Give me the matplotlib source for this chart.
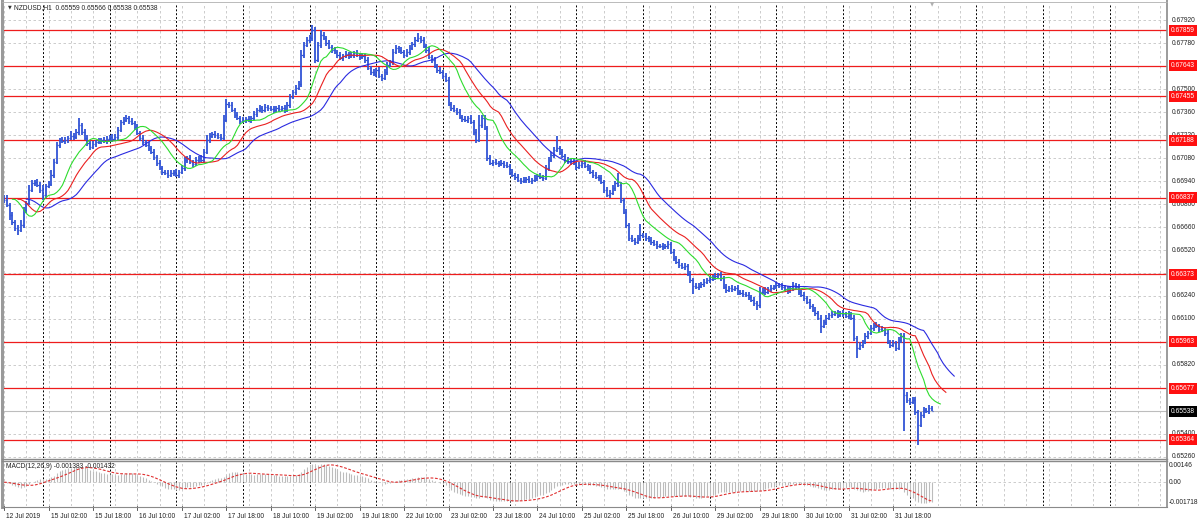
import numpy as np
import pandas as pd
import matplotlib
matplotlib.use('Agg')
import matplotlib.pyplot as plt

# NZDUSD H1 closes (in 1e-5), 12 Jul 2019 10:00 -> 1 Aug 2019 08:00
close = [
    66824, 66794, 66733, 66691, 66654, 66642, 66672, 66763, 66806, 66885,
    66928, 66934, 66916, 66885, 66855, 66909, 66922, 66977, 67056, 67159,
    67190, 67184, 67190, 67201, 67214, 67208, 67238, 67281, 67238, 67201,
    67172, 67147, 67165, 67178, 67184, 67190, 67184, 67196, 67208, 67196,
    67208, 67250, 67299, 67311, 67323, 67305, 67293, 67269, 67232, 67201,
    67178, 67159, 67141, 67117, 67086, 67050, 67019, 66995, 66989, 66977,
    66989, 66995, 66977, 66995, 67019, 67068, 67080, 67056, 67044, 67068,
    67080, 67068, 67117, 67190, 67214, 67226, 67220, 67208, 67201, 67311,
    67409, 67403, 67372, 67342, 67323, 67305, 67311, 67317, 67311, 67323,
    67348, 67372, 67384, 67372, 67390, 67384, 67378, 67372, 67384, 67378,
    67384, 67372, 67403, 67451, 67482, 67506, 67530, 67707, 67768, 67798,
    67810, 67859, 67677, 67768, 67829, 67810, 67780, 67756, 67737, 67725,
    67707, 67689, 67701, 67713, 67701, 67707, 67719, 67707, 67695, 67701,
    67677, 67628, 67604, 67591, 67616, 67579, 67567, 67604, 67646, 67665,
    67725, 67750, 67737, 67725, 67707, 67725, 67750, 67774, 67798, 67810,
    67798, 67762, 67737, 67695, 67677, 67640, 67616, 67604, 67579, 67555,
    67409, 67384, 67372, 67360, 67329, 67317, 67311, 67323, 67299, 67238,
    67190, 67281, 67323, 67262, 67080, 67050, 67056, 67050, 67044, 67050,
    67037, 67031, 66995, 66977, 66964, 66946, 66940, 66946, 66952, 66940,
    66946, 66958, 66971, 66964, 66958, 67019, 67068, 67098, 67129, 67141,
    67117, 67092, 67068, 67056, 67062, 67050, 67025, 67037, 67050, 67031,
    67019, 66995, 66977, 66964, 66958, 66934, 66885, 66855, 66867, 66897,
    66928, 66916, 66824, 66751, 66672, 66593, 66581, 66569, 66593, 66611,
    66605, 66593, 66581, 66569, 66556, 66544, 66544, 66538, 66544, 66556,
    66508, 66471, 66447, 66429, 66416, 66422, 66374, 66337, 66300, 66294,
    66300, 66313, 66325, 66337, 66343, 66355, 66362, 66368, 66349, 66294,
    66276, 66288, 66282, 66288, 66264, 66258, 66252, 66246, 66234, 66216,
    66197, 66185, 66264, 66276, 66264, 66282, 66288, 66300, 66307, 66300,
    66294, 66282, 66270, 66288, 66307, 66294, 66264, 66246, 66228, 66204,
    66179, 66155, 66137, 66106, 66057, 66082, 66106, 66124, 66131, 66137,
    66124, 66137, 66131, 66118, 66131, 66106, 65985, 65923, 65942, 65960,
    65996, 66015, 66045, 66063, 66057, 66039, 66033, 66015, 65960, 65942,
    65954, 65923, 65972, 65996, 65637, 65607, 65595, 65607, 65534, 65455,
    65516, 65546, 65540, 65559, 65538,
]
# wick above / below the body, in pips
wick_up = [
    2, 3, 1, 2, 1, 2, 3, 2, 1, 3,  2, 1, 2, 2, 3, 1, 2, 3, 2, 2,
    1, 2, 2, 1, 3, 2, 2, 4, 1, 2,  2, 1, 2, 1, 2, 1, 2, 2, 1, 2,
    2, 2, 1, 2, 2, 1, 2, 1, 2, 1,  2, 1, 2, 1, 2, 1, 2, 1, 1, 2,
    2, 1, 2, 1, 2, 2, 1, 2, 1, 2,  1, 2, 2, 3, 2, 1, 2, 1, 2, 3,
    3, 1, 2, 1, 2, 1, 2, 1, 2, 1,  2, 1, 2, 1, 2, 1, 1, 2, 1, 2,
    1, 2, 2, 2, 1, 2, 2, 3, 2, 2,  2, 3, 2, 2, 3, 2, 1, 2, 1, 2,
    1, 2, 1, 2, 1, 2, 1, 2, 1, 2,  1, 2, 1, 2, 1, 2, 1, 2, 2, 1,
    2, 2, 1, 2, 1, 2, 2, 1, 2, 3,  1, 2, 1, 2, 1, 2, 1, 2, 1, 2,
    2, 1, 2, 1, 2, 1, 2, 1, 2, 1,  2, 6, 2, 2, 1, 2, 1, 2, 1, 2,
    1, 2, 1, 2, 1, 2, 1, 2, 1, 2,  1, 2, 1, 2, 1, 2, 2, 2, 2, 7,
    1, 2, 1, 2, 1, 2, 1, 2, 1, 2,  1, 2, 1, 2, 1, 2, 1, 2, 2, 2,
    1, 6, 2, 1, 2, 1, 2, 1, 2, 7,  1, 2, 1, 2, 1, 2, 1, 2, 1, 2,
    1, 2, 1, 2, 1, 2, 1, 2, 1, 2,  2, 1, 2, 1, 2, 1, 2, 1, 2, 1,
    2, 1, 2, 1, 2, 1, 2, 1, 2, 1,  2, 1, 3, 1, 2, 1, 2, 1, 2, 1,
    2, 1, 2, 1, 2, 1, 2, 1, 2, 1,  2, 1, 2, 1, 2, 1, 2, 1, 2, 1,
    2, 1, 2, 1, 2, 1, 2, 1, 2, 1,  2, 1, 2, 1, 2, 1, 2, 1, 2, 1,
    2, 1, 2, 2, 2, 2, 1, 2, 2, 1,  2, 2, 1, 2, 1,
]
wick_dn = [
    2, 1, 3, 2, 2, 3, 1, 2, 2, 1,  1, 2, 1, 2, 3, 2, 1, 1, 2, 1,
    2, 1, 2, 2, 1, 2, 1, 2, 2, 1,  2, 2, 1, 2, 1, 2, 1, 2, 1, 2,
    1, 2, 1, 2, 1, 2, 1, 2, 1, 2,  2, 1, 2, 1, 2, 2, 1, 2, 1, 2,
    1, 2, 1, 2, 1, 2, 2, 1, 2, 1,  2, 1, 2, 1, 2, 1, 2, 1, 2, 1,
    1, 2, 1, 2, 1, 2, 1, 2, 1, 2,  1, 2, 1, 2, 1, 2, 1, 2, 1, 2,
    1, 2, 1, 2, 1, 2, 1, 2, 2, 1,  2, 2, 2, 1, 2, 1, 2, 1, 2, 1,
    2, 1, 2, 1, 2, 1, 2, 1, 2, 1,  2, 1, 2, 1, 2, 1, 2, 1, 2, 1,
    2, 1, 2, 1, 2, 1, 2, 1, 2, 1,  2, 1, 2, 1, 2, 1, 2, 1, 2, 1,
    1, 2, 1, 2, 1, 2, 1, 2, 1, 2,  2, 1, 2, 1, 2, 1, 2, 1, 2, 1,
    2, 1, 2, 1, 2, 1, 2, 1, 2, 1,  2, 1, 2, 1, 2, 1, 2, 1, 2, 1,
    2, 1, 2, 1, 2, 1, 2, 1, 2, 1,  2, 1, 2, 1, 2, 1, 2, 1, 2, 1,
    2, 1, 2, 1, 2, 2, 1, 2, 1, 2,  1, 2, 1, 2, 1, 2, 1, 2, 1, 2,
    1, 2, 1, 2, 1, 2, 1, 2, 5, 1,  2, 1, 2, 1, 2, 1, 2, 1, 2, 1,
    2, 1, 2, 1, 2, 1, 2, 1, 2, 1,  2, 3, 2, 1, 2, 1, 2, 1, 2, 1,
    2, 1, 2, 1, 2, 1, 2, 1, 2, 1,  2, 1, 2, 1, 4, 1, 2, 1, 2, 1,
    2, 1, 2, 1, 2, 1, 2, 6, 1, 2,  1, 2, 1, 2, 1, 2, 1, 2, 1, 2,
    1, 2, 1, 2, 22, 2, 2, 1, 2, 12,  1, 2, 1, 2, 0,
]

levels = [0.67859, 0.67643, 0.67455, 0.67188, 0.66837, 0.66373, 0.65963, 0.65677, 0.65364]
last_price = 0.65538
price_ticks = ['0.67920', '0.67780', '0.67640', '0.67500', '0.67360', '0.67220', '0.67080',
               '0.66940', '0.66800', '0.66660', '0.66520', '0.66380', '0.66240', '0.66100',
               '0.65960', '0.65820', '0.65680', '0.65540', '0.65400', '0.65260']
time_labels = ['12 Jul 2019', '15 Jul 02:00', '15 Jul 18:00', '16 Jul 10:00', '17 Jul 02:00',
               '17 Jul 18:00', '18 Jul 10:00', '19 Jul 02:00', '19 Jul 18:00', '22 Jul 10:00',
               '23 Jul 02:00', '23 Jul 18:00', '24 Jul 10:00', '25 Jul 02:00', '25 Jul 18:00',
               '26 Jul 10:00', '29 Jul 02:00', '29 Jul 18:00', '30 Jul 10:00', '31 Jul 02:00',
               '31 Jul 18:00']
macd_ticks = [0.00146, 0.0, -0.001718]
macd_tick_labels = ['0.00146', '0.00', '-0.001718']

# ohlc
c = np.array(close) / 1e5
o = np.r_[c[0] + 0.0001, c[:-1]]
h = np.maximum(o, c) + np.array(wick_up) / 1e4
l = np.minimum(o, c) - np.array(wick_dn) / 1e4
n = len(c)
idx = np.arange(n)

# alligator (smma of median price, shifted)
med = pd.Series((h + l) / 2)
def smma(s, p):
    return s.ewm(alpha=1.0 / p, adjust=False).mean().values
jaw, teeth, lips = smma(med, 13), smma(med, 8), smma(med, 5)

# macd
cs = pd.Series(c)
macd = (cs.ewm(span=12, adjust=False).mean() - cs.ewm(span=26, adjust=False).mean())
signal = macd.rolling(9, min_periods=1).mean()

W, H = 1200, 523
def box(x0, y0, x1, y1):
    return [x0 / W, 1 - y1 / H, (x1 - x0) / W, (y1 - y0) / H]

plt.rcParams['font.family'] = ['Liberation Sans', 'DejaVu Sans']
fig = plt.figure(figsize=(12, 5.23), dpi=100)
ax = fig.add_axes(box(3, 3, 1167, 458))
axm = fig.add_axes(box(3, 462, 1167, 506))

xmin, xmax = -0.4, 418.6
fs = 4.8
grid_c = '#c4c4c4'

for a in (ax, axm):
    a.set_xlim(xmin, xmax)
    a.set_xticks([])
    a.set_yticks([])
    for s in a.spines.values():
        s.set_visible(False)
    # vertical grid + day separators
    for g in range(0, 420, 8):
        a.axvline(g, color=grid_c, lw=0.6, ls=(0, (3, 3)), zorder=0)
    for d in range(14, 420, 24):
        a.axvline(d, color='black', lw=0.7, ls=(0, (2, 2)), zorder=1)

ax.set_ylim(0.652539, 0.680235)
for t in price_ticks:
    v = float(t)
    ax.axhline(v, color=grid_c, lw=0.6, ls=(0, (3, 3)), zorder=0)
    ax.text(1.0045, v, t, transform=ax.get_yaxis_transform(), va='center', ha='left',
            fontsize=fs, color='#222222', clip_on=False)

for lv in levels:
    ax.axhline(lv, color='#ee1c1c', lw=0.9, zorder=2)
    ax.text(1.0035, lv, '%.5f' % lv, transform=ax.get_yaxis_transform(), va='center', ha='left',
            fontsize=fs, color='white', clip_on=False, zorder=5,
            bbox=dict(boxstyle='square,pad=0.3', fc='#ff1010', ec='none'))
ax.axhline(last_price, color='#bdbdbd', lw=0.8, zorder=1)
ax.text(1.0035, last_price, '%.5f' % last_price, transform=ax.get_yaxis_transform(), va='center',
        ha='left', fontsize=fs, color='white', clip_on=False, zorder=5,
        bbox=dict(boxstyle='square,pad=0.3', fc='black', ec='none'))

# price bars
bar_c = '#3154d6'
ax.vlines(idx, l, h, color=bar_c, lw=1.3, zorder=3)
ax.hlines(o, idx - 0.45, idx, color=bar_c, lw=0.9, zorder=3)
ax.hlines(c, idx, idx + 0.45, color=bar_c, lw=0.9, zorder=3)

ax.plot(idx + 8, jaw, color='#2a2ae0', lw=0.8, zorder=4)
ax.plot(idx + 5, teeth, color='#ea2020', lw=0.8, zorder=4)
ax.plot(idx + 3, lips, color='#2edc2e', lw=0.8, zorder=4)

ax.text(0.0045, 0.9905, '\u25bc', transform=ax.transAxes, fontsize=3.5, color='#333333',
        va='center', ha='left', family='DejaVu Sans')
ax.text(0.0095, 0.9905, 'NZDUSD,H1  0.65559 0.65566 0.65538 0.65538', transform=ax.transAxes,
        fontsize=fs, color='#222222', va='center', ha='left')

# macd panel
axm.set_ylim(macd_ticks[2], macd_ticks[0])
axm.axhline(0, color=grid_c, lw=0.6, ls=(0, (3, 3)), zorder=0)
axm.vlines(idx, 0, macd.values, color='#bcbcbc', lw=0.8, zorder=2)
axm.plot(idx, signal.values, color='#e03030', lw=0.8, ls=(0, (2.5, 1.5)), zorder=3)
for v, t in zip(macd_ticks, macd_tick_labels):
    axm.text(1.0015, v, t, transform=axm.get_yaxis_transform(), ha='left', fontsize=fs,
             va='top' if v > 0.001 else ('bottom' if v < -0.001 else 'center'),
             color='#222222', clip_on=False)
axm.text(0.003, 0.89, 'MACD(12,26,9) -0.001383 -0.001432', transform=axm.transAxes,
         fontsize=fs, color='#222222', va='center', ha='left')

# time axis labels
for k, t in enumerate(time_labels):
    p = 16 * k
    axm.plot([p, p], [-0.09, -0.0], transform=axm.get_xaxis_transform(), color='#444444',
             lw=0.6, clip_on=False)
    axm.text(p + 0.7, -0.17, t, transform=axm.get_xaxis_transform(), fontsize=fs,
             color='#222222', va='top', ha='left', clip_on=False)

# frame lines (pixel coords)
def fline(x0, y0, x1, y1, **kw):
    fig.add_artist(plt.Line2D([x0 / W, x1 / W], [1 - y0 / H, 1 - y1 / H], **kw))

fline(1.5, 0, 1.5, 507, color='#9a9a9a', lw=2.2)
fline(1167, 0, 1167, 507, color='#8a8a8a', lw=1.2)
fline(2, 458.5, 1167, 458.5, color='#8a8a8a', lw=1.0)
fline(2, 461, 1167, 461, color='#8a8a8a', lw=1.0)
fline(2, 506.5, 1167, 506.5, color='#8a8a8a', lw=0.8)
fline(2, 2, 1167, 2, color='#b0b0b0', lw=0.6)
fig.text(932 / W, 1 - 5 / H, '\u25bc', fontsize=4, color='#b0b0b0', ha='center', va='center',
         family='DejaVu Sans')

fig.savefig('out.png', dpi=100, facecolor='white')
